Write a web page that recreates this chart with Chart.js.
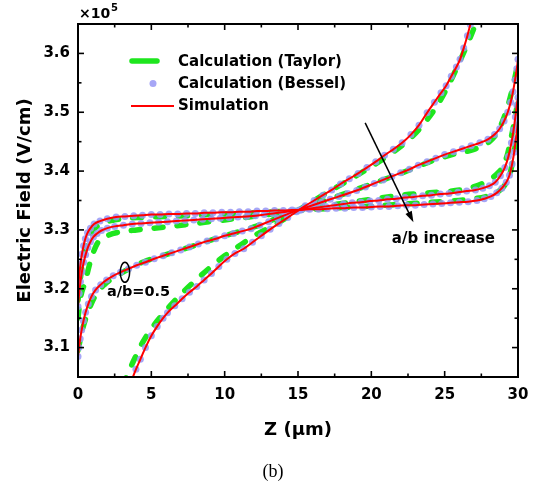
<!DOCTYPE html>
<html>
<head>
<meta charset="utf-8">
<script src="https://cdn.jsdelivr.net/npm/chart.js@4.4.1/dist/chart.umd.min.js"></script>
<style>
  html, body { margin: 0; padding: 0; background: #fff; }
  #wrap { width: 538px; height: 492px; position: relative; }
</style>
</head>
<body>
<div id="wrap"><canvas id="chart"></canvas></div>
<script>
// axis ticks
const xTicks = [0, 5, 10, 15, 20, 25, 30];
const xMinorTicks = [2.5, 7.5, 12.5, 17.5, 22.5, 27.5];
const yTicks = [3.1, 3.2, 3.3, 3.4, 3.5, 3.6];
const yTickLabels = ['3.1', '3.2', '3.3', '3.4', '3.5', '3.6'];
const yMinorTicks = [3.05, 3.15, 3.25, 3.35, 3.45, 3.55, 3.65];

// curve 1 (a/b = 0.5) - simulation / Bessel, E in units of 1e5 V/cm
const sim1Z = [3.4, 3.67, 3.95, 4.25, 4.6, 5.0, 5.4, 5.8, 6.1, 6.6, 7.1, 7.6, 8.1, 8.6, 9.1, 9.6, 10.15, 10.7, 11.3, 11.9, 12.5, 13.1, 13.7, 14.3, 14.9, 15.5, 16.1, 16.7, 17.3, 17.9, 18.5, 19.1, 19.7, 20.3, 20.9, 21.5, 22.1, 22.7, 23.25, 23.8, 24.3, 24.75, 25.1, 25.45, 25.8, 26.05, 26.3, 26.55, 26.75, 26.95];
const sim1E = [3.025, 3.045, 3.063, 3.08, 3.1, 3.12, 3.136, 3.15, 3.159, 3.171, 3.183, 3.194, 3.204, 3.215, 3.226, 3.238, 3.25, 3.26, 3.268, 3.279, 3.29, 3.301, 3.311, 3.321, 3.331, 3.341, 3.35, 3.359, 3.368, 3.378, 3.387, 3.396, 3.406, 3.416, 3.427, 3.437, 3.448, 3.462, 3.478, 3.499, 3.517, 3.533, 3.545, 3.561, 3.577, 3.59, 3.609, 3.63, 3.649, 3.668];
// curve 1 - Taylor
const tay1Z = [3.0, 3.3, 3.8, 4.3, 5.0, 6.0, 7.0, 8.0, 9.0, 10.0, 11.0, 12.0, 13.5, 15.0, 16.5, 18.0, 19.5, 21.0, 22.5, 23.5, 24.5, 25.3, 26.0, 26.5, 27.0, 27.3];
const tay1E = [3.035, 3.05, 3.078, 3.104, 3.132, 3.163, 3.19, 3.214, 3.236, 3.256, 3.273, 3.29, 3.31, 3.333, 3.356, 3.378, 3.4, 3.424, 3.452, 3.478, 3.512, 3.548, 3.585, 3.613, 3.643, 3.665];

// curve 2
const sim2Z = [0, 0.07, 0.15, 0.25, 0.37, 0.52, 0.7, 0.92, 1.2, 1.55, 1.95, 2.4, 2.9, 3.45, 4.0, 4.6, 5.2, 5.8, 6.4, 7.0, 7.6, 8.2, 8.8, 9.4, 10.0, 10.6, 11.2, 11.8, 12.4, 13.0, 13.6, 14.2, 14.8, 15.4, 16.0, 16.6, 17.2, 17.8, 18.4, 19.0, 19.6, 20.2, 20.8, 21.4, 22.0, 22.6, 23.2, 23.8, 24.4, 25.0, 25.6, 26.2, 26.8, 27.4, 27.95, 28.4, 28.75, 29.05, 29.3, 29.5, 29.66, 29.8, 29.92, 30];
const sim2E = [3.085, 3.1, 3.115, 3.13, 3.145, 3.16, 3.174, 3.187, 3.198, 3.207, 3.215, 3.222, 3.228, 3.234, 3.24, 3.245, 3.251, 3.256, 3.261, 3.266, 3.271, 3.276, 3.281, 3.285, 3.29, 3.294, 3.298, 3.302, 3.308, 3.314, 3.32, 3.326, 3.332, 3.337, 3.342, 3.347, 3.352, 3.357, 3.362, 3.367, 3.373, 3.379, 3.385, 3.391, 3.397, 3.403, 3.41, 3.416, 3.422, 3.428, 3.433, 3.438, 3.443, 3.448, 3.454, 3.462, 3.472, 3.485, 3.5, 3.517, 3.535, 3.555, 3.574, 3.59];
const tay2Z = [0, 0.3, 0.6, 0.9, 1.3, 1.8, 2.5, 3.5, 4.5, 6.0, 8.0, 10.0, 12.0, 14.0, 15.0, 16.0, 18.0, 20.0, 22.0, 24.0, 25.5, 27.0, 28.0, 28.6, 29.0, 29.3, 29.5, 29.8, 30];
const tay2E = [3.095, 3.13, 3.155, 3.174, 3.193, 3.207, 3.22, 3.234, 3.246, 3.258, 3.274, 3.29, 3.305, 3.324, 3.333, 3.342, 3.36, 3.378, 3.396, 3.416, 3.428, 3.437, 3.449, 3.466, 3.488, 3.51, 3.528, 3.56, 3.585];

// curve 3
const sim3Z = [0, 0.08, 0.17, 0.27, 0.39, 0.52, 0.67, 0.85, 1.05, 1.3, 1.6, 2.0, 2.5, 3.1, 3.7, 4.3, 4.9, 5.5, 6.1, 6.7, 7.3, 7.9, 8.5, 9.1, 9.7, 10.3, 10.9, 11.5, 12.1, 12.7, 13.3, 13.9, 14.5, 15.1, 15.7, 16.3, 16.9, 17.5, 18.1, 18.7, 19.3, 19.9, 20.5, 21.1, 21.7, 22.3, 22.9, 23.5, 24.1, 24.7, 25.3, 25.9, 26.5, 27.1, 27.6, 28.05, 28.45, 28.8, 29.1, 29.35, 29.55, 29.7, 29.82, 29.92, 30];
const sim3E = [3.17, 3.192, 3.212, 3.229, 3.245, 3.258, 3.27, 3.28, 3.288, 3.294, 3.299, 3.303, 3.306, 3.308, 3.31, 3.311, 3.312, 3.313, 3.314, 3.315, 3.316, 3.317, 3.318, 3.319, 3.32, 3.321, 3.322, 3.323, 3.324, 3.326, 3.328, 3.33, 3.332, 3.334, 3.336, 3.338, 3.34, 3.342, 3.344, 3.346, 3.347, 3.349, 3.35, 3.352, 3.353, 3.355, 3.356, 3.358, 3.359, 3.361, 3.362, 3.364, 3.366, 3.368, 3.371, 3.375, 3.381, 3.392, 3.406, 3.425, 3.448, 3.47, 3.492, 3.512, 3.525];
const tay3Z = [0, 0.15, 0.49, 0.83, 1.29, 2.0, 3.0, 4.0, 6.0, 8.0, 10.0, 12.0, 15.0, 18.0, 20.0, 22.0, 24.0, 26.3, 27.5, 28.1, 28.6, 29.0, 29.3, 29.46, 29.7, 30];
const tay3E = [3.15, 3.182, 3.212, 3.245, 3.276, 3.29, 3.297, 3.3, 3.305, 3.311, 3.317, 3.323, 3.333, 3.345, 3.352, 3.359, 3.363, 3.369, 3.378, 3.386, 3.396, 3.409, 3.43, 3.448, 3.477, 3.52];

// curve 4 (largest a/b)
const sim4Z = [0, 0.08, 0.17, 0.27, 0.38, 0.5, 0.65, 0.85, 1.1, 1.5, 2.0, 2.6, 3.2, 3.8, 4.4, 5.0, 5.6, 6.2, 6.8, 7.4, 8.0, 8.6, 9.2, 9.8, 10.4, 11.0, 11.6, 12.2, 12.8, 13.4, 14.0, 14.6, 15.2, 15.8, 16.4, 17.0, 17.6, 18.2, 18.8, 19.4, 20.0, 20.6, 21.2, 21.8, 22.4, 23.0, 23.6, 24.2, 24.8, 25.4, 26.0, 26.6, 27.2, 27.7, 28.15, 28.55, 28.9, 29.2, 29.42, 29.6, 29.74, 29.86, 29.96, 30];
const sim4E = [3.2, 3.222, 3.242, 3.259, 3.273, 3.285, 3.295, 3.303, 3.31, 3.315, 3.319, 3.322, 3.323, 3.324, 3.325, 3.326, 3.326, 3.327, 3.327, 3.328, 3.328, 3.329, 3.329, 3.33, 3.33, 3.331, 3.331, 3.332, 3.332, 3.333, 3.333, 3.334, 3.334, 3.335, 3.335, 3.336, 3.337, 3.337, 3.338, 3.338, 3.339, 3.34, 3.34, 3.341, 3.342, 3.342, 3.343, 3.344, 3.345, 3.346, 3.347, 3.348, 3.35, 3.353, 3.357, 3.363, 3.371, 3.381, 3.393, 3.412, 3.432, 3.455, 3.475, 3.485];
const tay4Z = [0, 0.2, 0.5, 0.9, 1.6, 2.5, 4.0, 6.3, 9.0, 12.0, 15.0, 18.0, 21.0, 24.0, 26.7, 28.0, 28.5, 29.0, 29.3, 29.5, 29.7, 29.85, 30];
const tay4E = [3.18, 3.225, 3.268, 3.295, 3.31, 3.317, 3.321, 3.323, 3.326, 3.329, 3.333, 3.338, 3.342, 3.347, 3.352, 3.358, 3.363, 3.373, 3.385, 3.4, 3.426, 3.45, 3.48];

const simZ = [sim1Z, sim2Z, sim3Z, sim4Z];
const simE = [sim1E, sim2E, sim3E, sim4E];
const tayZ = [tay1Z, tay2Z, tay3Z, tay4Z];
const tayE = [tay1E, tay2E, tay3E, tay4E];

const GREEN = '#1ee61e';
const DOT = 'rgba(150, 150, 245, 0.85)';
const RED = '#ff0000';
const FONT = '"DejaVu Sans", sans-serif';

const toPoints = (zs, es) => zs.map((z, i) => ({ x: z, y: es[i] }));

const datasets = [];
simZ.forEach((zs, i) => {
    datasets.push({
        label: 'Simulation', data: toPoints(zs, simE[i]), showLine: true,
        borderColor: RED, borderWidth: 2, pointRadius: 0, cubicInterpolationMode: 'monotone', order: 1
    });
    datasets.push({
        label: 'Calculation (Bessel)', data: toPoints(zs, simE[i]), showLine: false,
        pointRadius: 3.5, pointBackgroundColor: DOT, pointBorderWidth: 0, order: 2
    });
    datasets.push({
        label: 'Calculation (Taylor)', data: toPoints(tayZ[i], tayE[i]), showLine: true,
        borderColor: GREEN, borderWidth: 5.5, borderDash: [9, 14], borderCapStyle: 'round',
        pointRadius: 0, cubicInterpolationMode: 'monotone', order: 3
    });
});

// frame with inward ticks on all four sides
const framePlugin = {
    id: 'frame',
    afterDatasetsDraw(chart) {
        const { ctx, chartArea: a, scales: { x, y } } = chart;
        ctx.save();
        ctx.strokeStyle = '#000';
        ctx.lineWidth = 2;
        ctx.strokeRect(a.left, a.top, a.right - a.left, a.bottom - a.top);
        ctx.lineWidth = 1.6;
        const seg = (x1, y1, x2, y2) => { ctx.beginPath(); ctx.moveTo(x1, y1); ctx.lineTo(x2, y2); ctx.stroke(); };
        xTicks.forEach(v => { const p = x.getPixelForValue(v); seg(p, a.bottom, p, a.bottom - 6); seg(p, a.top, p, a.top + 6); });
        xMinorTicks.forEach(v => { const p = x.getPixelForValue(v); seg(p, a.bottom, p, a.bottom - 3.5); seg(p, a.top, p, a.top + 3.5); });
        yTicks.forEach(v => { const p = y.getPixelForValue(v); seg(a.left, p, a.left + 6, p); seg(a.right, p, a.right - 6, p); });
        yMinorTicks.forEach(v => { const p = y.getPixelForValue(v); seg(a.left, p, a.left + 3.5, p); seg(a.right, p, a.right - 3.5, p); });
        ctx.restore();
    }
};

// legend, notes and labels
const notesPlugin = {
    id: 'notes',
    afterDraw(chart) {
        const { ctx, chartArea: a, scales: { x, y } } = chart;
        ctx.save();
        ctx.fillStyle = '#000';
        ctx.textBaseline = 'middle';

        // x10^5 multiplier
        ctx.font = 'bold 14px ' + FONT;
        ctx.textAlign = 'left';
        ctx.fillText('\u00d710', a.left + 1, 14);
        ctx.font = 'bold 10px ' + FONT;
        ctx.fillText('5', a.left + 33, 8);

        // legend
        const lx = a.left, ly = a.top;
        ctx.lineCap = 'round';
        ctx.strokeStyle = GREEN; ctx.lineWidth = 5.5;
        ctx.beginPath(); ctx.moveTo(lx + 54, ly + 37); ctx.lineTo(lx + 79, ly + 37); ctx.stroke();
        ctx.fillStyle = DOT;
        ctx.beginPath(); ctx.arc(lx + 75, ly + 59.5, 3.5, 0, Math.PI * 2); ctx.fill();
        ctx.lineCap = 'butt';
        ctx.strokeStyle = RED; ctx.lineWidth = 2;
        ctx.beginPath(); ctx.moveTo(lx + 53, ly + 82); ctx.lineTo(lx + 96, ly + 82); ctx.stroke();
        ctx.fillStyle = '#000';
        ctx.font = 'bold 15px ' + FONT;
        ctx.fillText('Calculation (Taylor)', lx + 100, ly + 38);
        ctx.fillText('Calculation (Bessel)', lx + 100, ly + 60);
        ctx.fillText('Simulation', lx + 100, ly + 82);

        // a/b = 0.5 marker
        ctx.strokeStyle = '#000'; ctx.lineWidth = 1.5;
        ctx.beginPath();
        ctx.ellipse(x.getPixelForValue(3.2), y.getPixelForValue(3.228), 4.7, 10, 0, 0, Math.PI * 2);
        ctx.stroke();
        ctx.font = 'bold 14.5px ' + FONT;
        ctx.fillText('a/b=0.5', x.getPixelForValue(1.97), y.getPixelForValue(3.194));

        // a/b increase arrow
        const x1 = x.getPixelForValue(19.58), y1 = y.getPixelForValue(3.482);
        const x2 = x.getPixelForValue(22.87), y2 = y.getPixelForValue(3.313);
        const ang = Math.atan2(y2 - y1, x2 - x1);
        ctx.lineWidth = 1.5;
        ctx.beginPath(); ctx.moveTo(x1, y1); ctx.lineTo(x2 - 8 * Math.cos(ang), y2 - 8 * Math.sin(ang)); ctx.stroke();
        ctx.beginPath();
        ctx.moveTo(x2, y2);
        ctx.lineTo(x2 - 11 * Math.cos(ang) + 3.5 * Math.sin(ang), y2 - 11 * Math.sin(ang) - 3.5 * Math.cos(ang));
        ctx.lineTo(x2 - 11 * Math.cos(ang) - 3.5 * Math.sin(ang), y2 - 11 * Math.sin(ang) + 3.5 * Math.cos(ang));
        ctx.closePath(); ctx.fill();
        ctx.font = 'bold 15px ' + FONT;
        ctx.fillText('a/b increase', x.getPixelForValue(21.4), y.getPixelForValue(3.285));

        // panel label
        ctx.font = '18px "Liberation Serif", serif';
        ctx.textAlign = 'center';
        ctx.fillText('(b)', 273, 472);
        ctx.restore();
    }
};

new Chart(document.getElementById('chart'), {
    type: 'scatter',
    data: { datasets },
    options: {
        responsive: true,
        maintainAspectRatio: false,
        animation: false,
        layout: { padding: { left: 0, top: 24, right: 20, bottom: 0 } },
        plugins: { legend: { display: false }, tooltip: { enabled: false } },
        scales: {
            x: {
                type: 'linear', min: 0, max: 30,
                grid: { display: false, drawTicks: false },
                border: { display: false },
                afterBuildTicks: s => { s.ticks = xTicks.map(v => ({ value: v })); },
                afterFit: s => { s.height = 115; },
                ticks: { color: '#000', padding: 9, font: { family: FONT, size: 15, weight: 'bold' } },
                title: {
                    display: true, text: 'Z (\u03bcm)', color: '#000',
                    font: { family: FONT, size: 18, weight: 'bold' }, padding: { top: 0, bottom: 51 }
                }
            },
            y: {
                type: 'linear', min: 3.05, max: 3.65,
                grid: { display: false, drawTicks: false },
                border: { display: false },
                afterBuildTicks: s => { s.ticks = yTicks.map(v => ({ value: v })); },
                afterFit: s => { s.width = 78; },
                ticks: {
                    color: '#000', padding: 8, font: { family: FONT, size: 15, weight: 'bold' },
                    callback: (v, i) => yTickLabels[i]
                },
                title: {
                    display: true, text: 'Electric Field (V/cm)', color: '#000',
                    font: { family: FONT, size: 18, weight: 'bold' }, padding: { top: 15, bottom: 0 }
                }
            }
        }
    },
    plugins: [framePlugin, notesPlugin]
});
</script>
</body>
</html>
